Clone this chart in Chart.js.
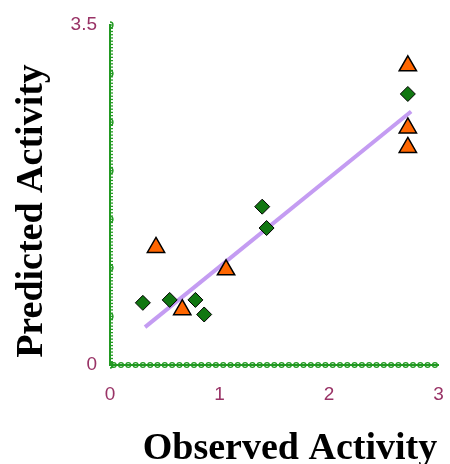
<!DOCTYPE html>
<html><head><meta charset="utf-8">
<script src="https://cdn.jsdelivr.net/npm/chart.js@4"></script>
<style>html,body{margin:0;padding:0;background:#fff}#c{display:block}</style>
</head><body>
<canvas id="c" width="450" height="464"></canvas>
<script>
const diamondX = [0.30, 0.545, 0.78, 0.86, 1.39, 1.43, 2.72];
const diamondY = [0.64, 0.67, 0.67, 0.52, 1.63, 1.41, 2.79];
const triangleX = [0.42, 0.66, 1.06, 2.72, 2.72, 2.72];
const triangleY = [1.21, 0.57, 0.98, 3.08, 2.44, 2.24];
const fitX = [0.32, 2.75];
const fitY = [0.39, 2.61];
const xTicks = [0, 1, 2, 3];
const yTicks = [0, 3.5];
const yTickLabels = ['0', '3.5'];
const xTitle = 'Observed Activity';
const yTitle = 'Predicted Activity';

const zip = (xs, ys) => xs.map((x, i) => ({x, y: ys[i]}));
const GREEN = '#229922';
const TITLE_FONT = 'bold 38px "Liberation Serif"';

const axisDeco = {
  id: 'axisDeco',
  afterDatasetsDraw(chart) {
    const {ctx, scales: {x, y}} = chart;
    ctx.save();
    ctx.strokeStyle = GREEN;
    ctx.lineWidth = 1.3;
    const x0 = x.getPixelForValue(0);
    for (let k = 0; k <= 105; k++) {
      const v = k / 30;
      const py = y.getPixelForValue(v);
      const major = k % 15 === 0;
      ctx.beginPath();
      ctx.moveTo(x0, py);
      ctx.lineTo(x0 + 3, py);
      ctx.stroke();
      if (major) {
        ctx.beginPath();
        ctx.arc(x0, py, 3, Math.PI * 0.5, Math.PI * 1.5, true);
        ctx.stroke();
      }
    }
    const y0 = y.getPixelForValue(0);
    for (let k = 0; k < 45; k++) {
      const px = x.getPixelForValue(k / 15);
      ctx.beginPath();
      ctx.arc(px + 3.7, y0, 2.4, 0, Math.PI * 2);
      ctx.stroke();
    }
    ctx.restore();
  },
  afterDraw(chart) {
    const {ctx} = chart;
    ctx.save();
    ctx.fillStyle = '#000';
    ctx.font = TITLE_FONT;
    ctx.textAlign = 'center';
    ctx.textBaseline = 'alphabetic';
    ctx.fillText(xTitle, 290, 459);
    ctx.translate(42, 211);
    ctx.rotate(-Math.PI / 2);
    ctx.fillText(yTitle, 0, 0);
    ctx.restore();
  }
};

new Chart(document.getElementById('c'), {
  type: 'scatter',
  data: {
    datasets: [
      {
        type: 'line',
        data: zip(fitX, fitY),
        borderColor: '#c49cf2',
        borderWidth: 4,
        pointRadius: 0,
        fill: false,
        order: 3
      },
      {
        data: zip(diamondX, diamondY),
        pointStyle: 'rectRot',
        pointRadius: 7.5,
        backgroundColor: '#117711',
        borderColor: '#000',
        borderWidth: 1,
        order: 1
      },
      {
        data: zip(triangleX, triangleY),
        pointStyle: 'triangle',
        pointRadius: 10,
        backgroundColor: '#ff6600',
        borderColor: '#000',
        borderWidth: 1.5,
        order: 2
      }
    ]
  },
  options: {
    responsive: false,
    animation: false,
    layout: {padding: {left: 0, right: 8, top: 25, bottom: 0}},
    plugins: {legend: {display: false}, tooltip: {enabled: false}},
    scales: {
      x: {
        type: 'linear', min: 0, max: 3,
        afterBuildTicks: s => { s.ticks = xTicks.map(v => ({value: v})); },
        afterFit: s => { s.height = 99; s.paddingLeft = 0; s.paddingRight = 0; },
        grid: {display: false, drawTicks: false},
        border: {display: true, color: GREEN, width: 2},
        ticks: {color: '#993366', font: {family: 'Liberation Sans', size: 19}, padding: 18, maxRotation: 0}
      },
      y: {
        type: 'linear', min: 0, max: 3.5,
        afterBuildTicks: s => { s.ticks = yTicks.map(v => ({value: v})); },
        afterFit: s => { s.width = 110; s.paddingTop = 0; s.paddingBottom = 0; },
        grid: {display: false, drawTicks: false},
        border: {display: true, color: GREEN, width: 2},
        ticks: {color: '#993366', font: {family: 'Liberation Sans', size: 19}, padding: 13,
          callback: (v, i) => yTickLabels[i]}
      }
    }
  },
  plugins: [axisDeco]
});
</script>
</body></html>
